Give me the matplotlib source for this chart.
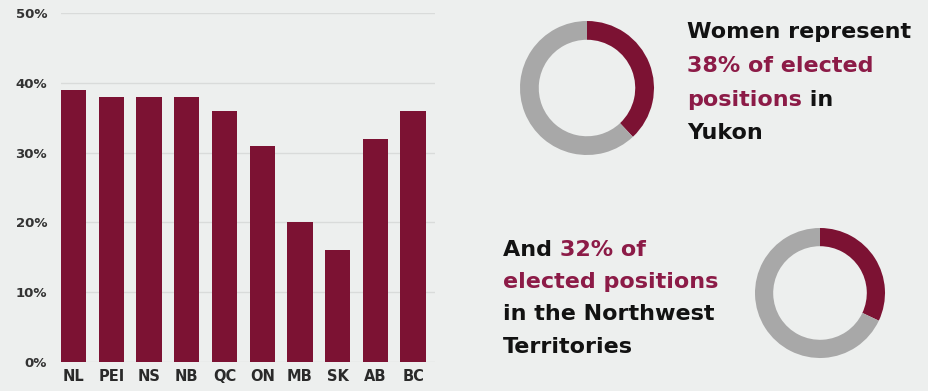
import matplotlib
matplotlib.use("Agg")
import matplotlib.pyplot as plt

provinces = ["NL", "PEI", "NS", "NB", "QC", "ON", "MB", "SK", "AB", "BC"]
women_pct = [39, 38, 38, 38, 36, 31, 20, 16, 32, 36]
y_ticks = [0, 10, 20, 30, 40, 50]
y_tick_labels = ["0%", "10%", "20%", "30%", "40%", "50%"]
yukon_pct = 38
nwt_pct = 32

BG = "#edefee"
BAR = "#7c1233"
HI = "#8c1b47"
GRAY = "#a8a8a8"
DARK = "#121212"
FONT = "DejaVu Sans"

W, H = 929, 391
fig = plt.figure(figsize=(W / 100, H / 100), dpi=100, facecolor=BG)

def fbox(x0, y0, w, h):
    return [x0 / W, 1 - (y0 + h) / H, w / W, h / H]

# Bar chart
ax = fig.add_axes(fbox(61, 13, 374, 349))
ax.set_facecolor(BG)
x = list(range(len(provinces)))
ax.bar(x, women_pct, width=0.67, color=BAR, zorder=3)
ax.set_xlim(-0.335, 9.58)
ax.set_ylim(0, 50)
ax.set_yticks(y_ticks)
ax.set_yticklabels(y_tick_labels)
ax.set_xticks(x)
ax.set_xticklabels(provinces)
ax.grid(axis="y", color="#d9dbda", linewidth=1.0, zorder=0)
for s in ax.spines.values():
    s.set_visible(False)
ax.tick_params(axis="both", length=0)
ax.tick_params(axis="y", pad=10, labelsize=9.5, labelcolor="#333333")
ax.tick_params(axis="x", pad=5, labelsize=10.5, labelcolor="#2a2a2a")
for lab in ax.get_yticklabels() + ax.get_xticklabels():
    lab.set_fontweight("bold")
    lab.set_family(FONT)

# Donuts
def donut(cx, cy, r, pct):
    a = fig.add_axes(fbox(cx - r, cy - r, 2 * r, 2 * r))
    a.pie([pct, 100 - pct], colors=[BAR, GRAY], startangle=90, counterclock=False,
          wedgeprops=dict(width=0.28, linewidth=0))
    a.set_xlim(-1, 1)
    a.set_ylim(-1, 1)
    a.set_aspect("equal")
    a.axis("off")

donut(587, 88, 67, yukon_pct)
donut(820, 293, 65, nwt_pct)

# Rich text
renderer = fig.canvas.get_renderer()
FS = 16

def rich_line(x0, y0, parts):
    xpix = x0
    for txt, col in parts:
        t = fig.text(xpix / W, 1 - y0 / H, txt, color=col, fontsize=FS,
                     fontweight="bold", family=FONT, va="center", ha="left")
        bb = t.get_window_extent(renderer=renderer)
        xpix += bb.width

rich_line(687, 32, [("Women represent", DARK)])
rich_line(687, 66, [(f"{yukon_pct}% of elected", HI)])
rich_line(687, 100, [("positions", HI), (" in", DARK)])
rich_line(687, 133, [("Yukon", DARK)])

rich_line(503, 250, [("And ", DARK), (f"{nwt_pct}% of", HI)])
rich_line(503, 282, [("elected positions", HI)])
rich_line(503, 314, [("in the Northwest", DARK)])
rich_line(503, 347, [("Territories", DARK)])

fig.savefig("out.png", dpi=100, facecolor=BG)
